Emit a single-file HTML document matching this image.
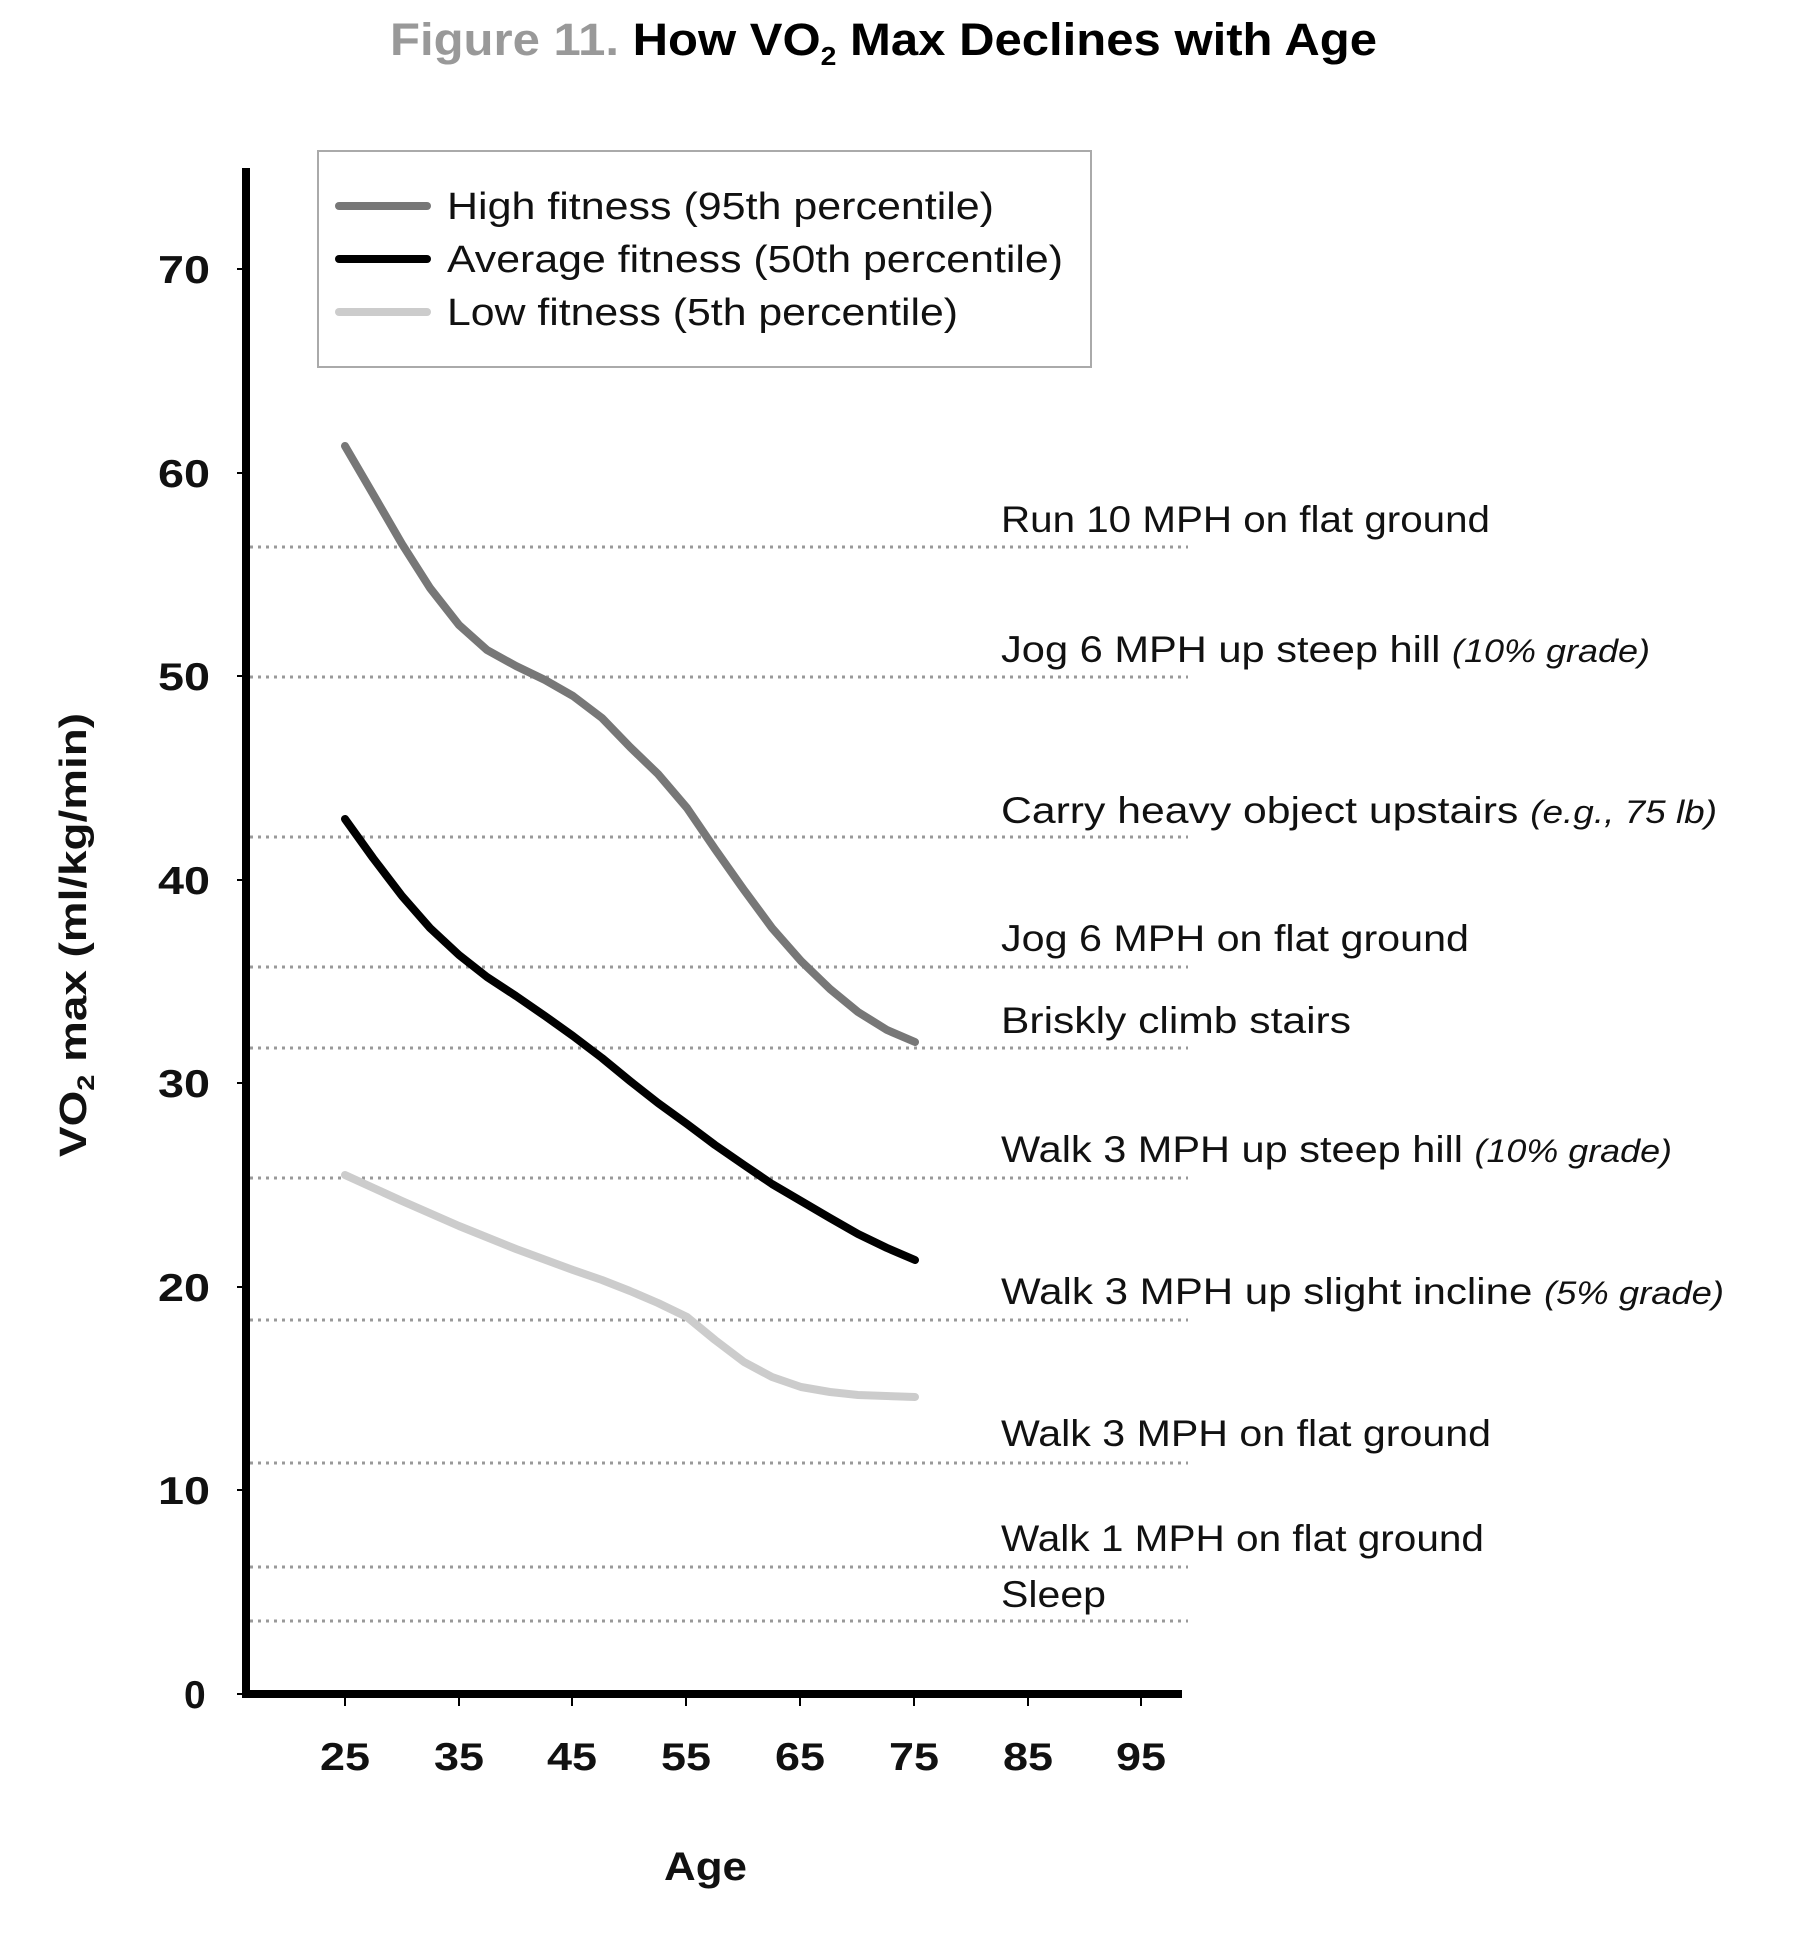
<!DOCTYPE html>
<html><head><meta charset="utf-8"><style>
html,body{margin:0;padding:0;background:#fff;}
svg{display:block;font-family:"Liberation Sans",sans-serif;}
</style></head><body>
<svg width="1805" height="1938" viewBox="0 0 1805 1938" xmlns="http://www.w3.org/2000/svg">
<text x="390" y="55" font-size="45" font-weight="bold" textLength="987" lengthAdjust="spacingAndGlyphs"><tspan fill="#999">Figure 11.</tspan><tspan fill="#000"> How VO</tspan><tspan fill="#000" font-size="26" dy="10">2</tspan><tspan fill="#000" dy="-10"> Max Declines with Age</tspan></text>
<g stroke="#999" stroke-width="3" stroke-dasharray="3,5">
<line x1="250" x2="1188" y1="547" y2="547"/><line x1="250" x2="1188" y1="677" y2="677"/>
<line x1="250" x2="1188" y1="837" y2="837"/><line x1="250" x2="1188" y1="967" y2="967"/>
<line x1="250" x2="1188" y1="1048" y2="1048"/><line x1="250" x2="1188" y1="1178" y2="1178"/>
<line x1="250" x2="1188" y1="1320" y2="1320"/><line x1="250" x2="1188" y1="1463" y2="1463"/>
<line x1="250" x2="1188" y1="1567" y2="1567"/><line x1="250" x2="1188" y1="1621" y2="1621"/>
</g>
<g font-size="37" fill="#111" lengthAdjust="spacingAndGlyphs">
<text x="1001" y="532" textLength="489" lengthAdjust="spacingAndGlyphs">Run 10 MPH on flat ground</text>
<text x="1001" y="662" textLength="649" lengthAdjust="spacingAndGlyphs">Jog 6 MPH up steep hill <tspan font-style="italic" font-size="32">(10% grade)</tspan></text>
<text x="1001" y="823" textLength="716" lengthAdjust="spacingAndGlyphs">Carry heavy object upstairs <tspan font-style="italic" font-size="32">(e.g., 75 lb)</tspan></text>
<text x="1001" y="951" textLength="468" lengthAdjust="spacingAndGlyphs">Jog 6 MPH on flat ground</text>
<text x="1001" y="1033" textLength="350" lengthAdjust="spacingAndGlyphs">Briskly climb stairs</text>
<text x="1001" y="1162" textLength="671" lengthAdjust="spacingAndGlyphs">Walk 3 MPH up steep hill <tspan font-style="italic" font-size="32">(10% grade)</tspan></text>
<text x="1001" y="1304" textLength="723" lengthAdjust="spacingAndGlyphs">Walk 3 MPH up slight incline <tspan font-style="italic" font-size="32">(5% grade)</tspan></text>
<text x="1001" y="1446" textLength="490" lengthAdjust="spacingAndGlyphs">Walk 3 MPH on flat ground</text>
<text x="1001" y="1551" textLength="483" lengthAdjust="spacingAndGlyphs">Walk 1 MPH on flat ground</text>
<text x="1001" y="1607" textLength="105" lengthAdjust="spacingAndGlyphs">Sleep</text>
</g>
<rect x="318" y="151" width="773" height="216" fill="#fff" stroke="#aaa" stroke-width="2"/>
<g stroke-width="8" stroke-linecap="round">
<line x1="339" x2="427" y1="206" y2="206" stroke="#777"/>
<line x1="339" x2="427" y1="259" y2="259" stroke="#000"/>
<line x1="339" x2="427" y1="312" y2="312" stroke="#ccc"/>
</g>
<g font-size="38" fill="#111">
<text x="447" y="219" textLength="547" lengthAdjust="spacingAndGlyphs">High fitness (95th percentile)</text>
<text x="447" y="272" textLength="616" lengthAdjust="spacingAndGlyphs">Average fitness (50th percentile)</text>
<text x="447" y="325" textLength="511" lengthAdjust="spacingAndGlyphs">Low fitness (5th percentile)</text>
</g>
<g fill="none" stroke-width="8" stroke-linecap="round" stroke-linejoin="round">
<polyline stroke="#777" points="345,446 373,494 402,544 430,588 459,625 487,650 516,666 545,680 573,696 602,718 630,747 658,774 687,808 715,849 744,890 772,928 801,961 830,989 858,1012 887,1030 915,1042"/>
<polyline stroke="#000" points="345,819 373,858 402,896 430,928 459,955 487,977 516,996 545,1016 573,1036 602,1058 630,1081 658,1103 687,1124 715,1145 744,1165 772,1184 801,1201 830,1218 858,1234 887,1248 915,1260"/>
<polyline stroke="#ccc" points="345,1175 402,1201 459,1226 516,1249 573,1270 602,1280 630,1291 658,1303 687,1317 715,1340 744,1362 772,1377 801,1387 830,1392 858,1395 915,1397"/>
</g>
<g stroke="#000">
<line x1="246" y1="168" x2="246" y2="1698" stroke-width="8"/>
<line x1="242" y1="1694" x2="1182" y2="1694" stroke-width="8"/>
</g>
<g stroke="#000" stroke-width="2">
<line x1="237" x2="246" y1="1694" y2="1694"/><line x1="237" x2="246" y1="1490" y2="1490"/>
<line x1="237" x2="246" y1="1287" y2="1287"/><line x1="237" x2="246" y1="1083" y2="1083"/>
<line x1="237" x2="246" y1="880" y2="880"/><line x1="237" x2="246" y1="676" y2="676"/>
<line x1="237" x2="246" y1="473" y2="473"/><line x1="237" x2="246" y1="269" y2="269"/>
<line x1="345" x2="345" y1="1698" y2="1706"/><line x1="459" x2="459" y1="1698" y2="1706"/>
<line x1="572" x2="572" y1="1698" y2="1706"/><line x1="686" x2="686" y1="1698" y2="1706"/>
<line x1="800" x2="800" y1="1698" y2="1706"/><line x1="914" x2="914" y1="1698" y2="1706"/>
<line x1="1028" x2="1028" y1="1698" y2="1706"/><line x1="1141" x2="1141" y1="1698" y2="1706"/>
</g>
<g font-size="39" font-weight="bold" fill="#111">
<text x="184" y="1708">0</text>
<text x="158" y="1504" textLength="52" lengthAdjust="spacingAndGlyphs">10</text>
<text x="158" y="1301" textLength="52" lengthAdjust="spacingAndGlyphs">20</text>
<text x="158" y="1097" textLength="52" lengthAdjust="spacingAndGlyphs">30</text>
<text x="158" y="894" textLength="52" lengthAdjust="spacingAndGlyphs">40</text>
<text x="158" y="690" textLength="52" lengthAdjust="spacingAndGlyphs">50</text>
<text x="158" y="487" textLength="52" lengthAdjust="spacingAndGlyphs">60</text>
<text x="158" y="283" textLength="52" lengthAdjust="spacingAndGlyphs">70</text>
</g>
<g font-size="39" font-weight="bold" fill="#111">
<text x="320" y="1770" textLength="50" lengthAdjust="spacingAndGlyphs">25</text>
<text x="434" y="1770" textLength="50" lengthAdjust="spacingAndGlyphs">35</text>
<text x="547" y="1770" textLength="50" lengthAdjust="spacingAndGlyphs">45</text>
<text x="661" y="1770" textLength="50" lengthAdjust="spacingAndGlyphs">55</text>
<text x="775" y="1770" textLength="50" lengthAdjust="spacingAndGlyphs">65</text>
<text x="889" y="1770" textLength="50" lengthAdjust="spacingAndGlyphs">75</text>
<text x="1003" y="1770" textLength="50" lengthAdjust="spacingAndGlyphs">85</text>
<text x="1116" y="1770" textLength="50" lengthAdjust="spacingAndGlyphs">95</text>
<text x="664" y="1880" font-size="40" textLength="83" lengthAdjust="spacingAndGlyphs">Age</text>
</g>
<text transform="translate(86,935) rotate(-90)" x="-222" y="0" font-size="38" font-weight="bold" fill="#111" textLength="444" lengthAdjust="spacingAndGlyphs">VO<tspan font-size="24" dy="8">2</tspan><tspan dy="-8"> max (ml/kg/min)</tspan></text>
</svg>
</body></html>
